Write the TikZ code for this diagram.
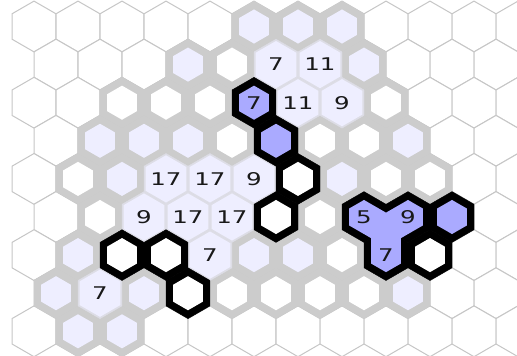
\documentclass[tikz,border=0pt]{standalone}
\usepackage{fontspec}
\usetikzlibrary{calc}
\newfontfamily\numfont[FakeStretch=1.4]{DejaVu Sans}
\definecolor{gridgray}{HTML}{C6C6C6}
\definecolor{bandgray}{HTML}{CCCCCC}
\definecolor{numline}{HTML}{DDDDE6}
\definecolor{lav}{HTML}{EEEEFF}
\definecolor{hexblue}{HTML}{AAAAFF}
% 格子尺寸
\def\hR{25.4}
\def\sR{17.05}
\def\nR{23.6}
\def\fR{8.35}
% 第 #1 列、第 #2 行格子的中心
\newcommand{\cellxy}[2]{%
  \pgfmathsetmacro\hexx{12+44*#1+22*mod(#2,2)}%
  \pgfmathsetmacro\hexy{26.5+38.1*(#2-1)}}
% 六边形
\newcommand{\hexat}[3]{%
  \path[#1] (#2) +(-90:#3) -- +(-30:#3) -- +(30:#3) -- +(90:#3)
    -- +(150:#3) -- +(210:#3) -- cycle;}
\begin{document}
\begin{tikzpicture}[x=1pt, y=-1pt,
    plain/.style={draw=gridgray, line width=1pt, fill=white},
    band/.style={fill=bandgray, draw=bandgray, line width=0.4pt},
    rim/.style={fill=black, draw=black, line width=0.4pt},
    numrim/.style={fill=numline, draw=numline, line width=0.4pt},
    inwhite/.style={fill=white},
    inlav/.style={fill=lav},
    inblue/.style={fill=hexblue},
    numtxt/.style={font=\numfont\fontsize{17.5}{17.5}\selectfont, text=black!90, inner sep=0pt}]
  \useasboundingbox (0,0) rectangle (517,356);
  \clip (0,0) rectangle (517,356);
  % 底层网格
  \foreach \r in {1,...,9} {
    \pgfmathtruncatemacro\kfirst{1-mod(\r,2)}
    \foreach \k in {\kfirst,...,11} {
      \cellxy{\k}{\r}
      \hexat{plain}{\hexx,\hexy}{\hR}
    }
  }
  % 灰边格（白心）
  \foreach \k/\r in {5/2,2/3,3/3,4/3,8/3,5/4,7/4,8/4,1/5,8/5,9/5,2/6,7/6,7/7,5/8,6/8,7/8,8/8} {
    \cellxy{\k}{\r}
    \hexat{band}{\hexx,\hexy}{\hR}
    \hexat{inwhite}{\hexx,\hexy}{\sR}
  }
  % 灰边格（淡紫心）
  \foreach \k/\r in {5/1,6/1,7/1,4/2,8/2,2/4,3/4,4/4,9/4,2/5,7/5,1/7,5/7,6/7,1/8,3/8,9/8,1/9,2/9} {
    \cellxy{\k}{\r}
    \hexat{band}{\hexx,\hexy}{\hR}
    \hexat{inlav}{\hexx,\hexy}{\sR}
  }
  % 数字格
  \foreach \k/\r/\lbl in {6/2/7,7/2/11,6/3/11,7/3/9,3/5/17,4/5/17,5/5/9,3/6/9,4/6/17,5/6/17,4/7/7,2/8/7} {
    \cellxy{\k}{\r}
    \hexat{numrim}{\hexx,\hexy}{\hR}
    \hexat{inlav}{\hexx,\hexy}{\nR}
    \node[numtxt] (n-\k-\r) at (\hexx,\hexy) {\lbl};
  }
  % 黑边格
  \foreach \k/\r in {6/5,6/6,2/7,3/7,9/7,4/8} {
    \cellxy{\k}{\r}
    \hexat{rim}{\hexx,\hexy}{\hR}
    \hexat{inwhite}{\hexx,\hexy}{\sR}
  }
  \foreach \k/\r in {5/3,6/4,10/6} {
    \cellxy{\k}{\r}
    \hexat{rim}{\hexx,\hexy}{\hR}
    \hexat{inblue}{\hexx,\hexy}{\sR}
  }
  \cellxy{5}{3}
  \node[numtxt] (n-5-3) at (\hexx,\hexy) {7};
  % 三格连块
  \cellxy{8}{6}
  \coordinate (gA) at (\hexx,\hexy);
  \cellxy{9}{6}
  \coordinate (gB) at (\hexx,\hexy);
  \cellxy{8}{7}
  \coordinate (gC) at (\hexx,\hexy);
  \hexat{rim}{gA}{\hR}
  \hexat{rim}{gB}{\hR}
  \hexat{rim}{gC}{\hR}
  \fill[hexblue] ($(gA)+(210:\sR)$) -- ($(gA)+(-90:\sR)$) -- ($(gA)+(-30:\hR)+(90:\fR)$)
    -- ($(gB)+(-90:\sR)$) -- ($(gB)+(-30:\sR)$) -- ($(gB)+(30:\sR)$)
    -- ($(gB)+(90:\hR)+(210:\fR)$) -- ($(gC)+(30:\sR)$) -- ($(gC)+(90:\sR)$)
    -- ($(gC)+(150:\sR)$) -- ($(gA)+(90:\hR)+(-30:\fR)$) -- ($(gA)+(150:\sR)$) -- cycle;
  \node[numtxt] (n-g5) at (gA) {5};
  \node[numtxt] (n-g9) at (gB) {9};
  \node[numtxt] (n-g7) at (gC) {7};
\end{tikzpicture}
\end{document}
